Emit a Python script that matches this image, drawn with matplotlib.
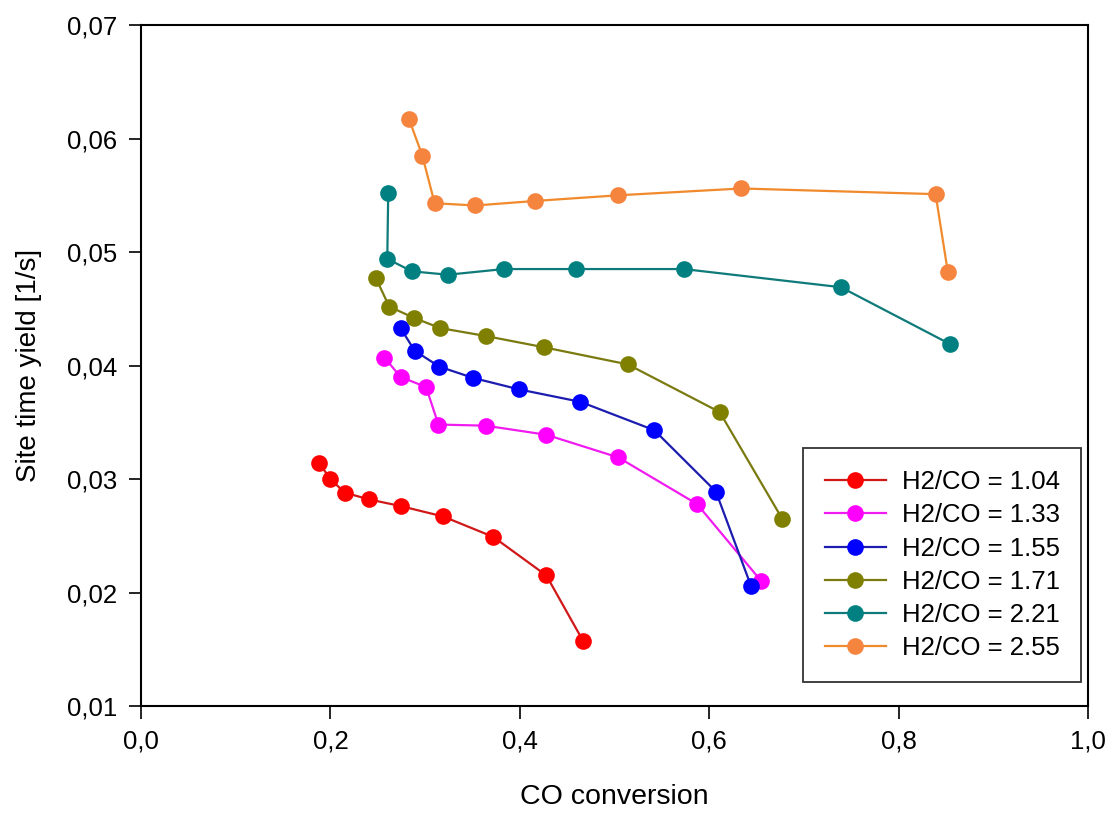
import matplotlib
matplotlib.use('Agg')
import matplotlib.pyplot as plt
from matplotlib.ticker import FuncFormatter

plt.rcParams['font.family'] = ['Liberation Sans', 'DejaVu Sans']

labels = ['H2/CO = 1.04', 'H2/CO = 1.33', 'H2/CO = 1.55',
          'H2/CO = 1.71', 'H2/CO = 2.21', 'H2/CO = 2.55']
marker_colors = ['#ff0000', '#ff00ff', '#0000ff', '#808000', '#008080', '#f5843f']
line_colors = ['#d01818', '#f01cf0', '#1c1cb0', '#7a7a10', '#0f7a7a', '#f08a2c']

x_104 = [0.188, 0.200, 0.215, 0.241, 0.275, 0.319, 0.372, 0.428, 0.467]
y_104 = [0.0314, 0.0300, 0.0288, 0.0282, 0.0276, 0.0267, 0.0249, 0.0215, 0.0157]

x_133 = [0.257, 0.274, 0.301, 0.314, 0.364, 0.428, 0.504, 0.587, 0.655]
y_133 = [0.0407, 0.0390, 0.0381, 0.0348, 0.0347, 0.0339, 0.0319, 0.0278, 0.0210]

x_155 = [0.274, 0.289, 0.315, 0.351, 0.399, 0.464, 0.542, 0.607, 0.644]
y_155 = [0.0433, 0.0413, 0.0399, 0.0389, 0.0379, 0.0368, 0.0343, 0.0289, 0.0206]

x_171 = [0.248, 0.262, 0.288, 0.316, 0.364, 0.426, 0.514, 0.611, 0.677]
y_171 = [0.0477, 0.0452, 0.0442, 0.0433, 0.0426, 0.0416, 0.0401, 0.0359, 0.0265]

x_221 = [0.261, 0.260, 0.286, 0.324, 0.383, 0.459, 0.573, 0.739, 0.854]
y_221 = [0.0552, 0.0494, 0.0483, 0.0480, 0.0485, 0.0485, 0.0485, 0.0469, 0.0419]

x_255 = [0.283, 0.297, 0.310, 0.353, 0.416, 0.504, 0.634, 0.839, 0.852]
y_255 = [0.0617, 0.0585, 0.0543, 0.0541, 0.0545, 0.0550, 0.0556, 0.0551, 0.0482]

series = [(x_104, y_104), (x_133, y_133), (x_155, y_155),
          (x_171, y_171), (x_221, y_221), (x_255, y_255)]

fig = plt.figure(figsize=(11.08, 8.13), dpi=100)
ax = fig.add_axes([0.1273, 0.1316, 0.8547, 0.8376])

for (xs, ys), mc, lc, lab in zip(series, marker_colors, line_colors, labels):
    ax.plot(xs, ys, color=lc, linewidth=1.6, marker='o', markersize=12,
            markerfacecolor=mc, markeredgewidth=0, label=lab)

ax.set_xlim(0.0, 1.0)
ax.set_ylim(0.01, 0.07)
ax.set_xticks([0.0, 0.2, 0.4, 0.6, 0.8, 1.0])
ax.set_yticks([0.01, 0.02, 0.03, 0.04, 0.05, 0.06, 0.07])
ax.xaxis.set_major_formatter(FuncFormatter(lambda v, p: f'{v:.1f}'.replace('.', ',')))
ax.yaxis.set_major_formatter(FuncFormatter(lambda v, p: f'{v:.2f}'.replace('.', ',')))
ax.tick_params(direction='out', length=9, width=1.2, labelsize=18.5, pad=8)

for s in ax.spines.values():
    s.set_linewidth(1.5)

ax.set_xlabel('CO conversion', fontsize=20.5, labelpad=22)
ax.set_ylabel('Site time yield [1/s]', fontsize=20, labelpad=18)

leg = ax.legend(loc='lower right', bbox_to_anchor=(0.993, 0.035), fontsize=18.5,
                frameon=True, fancybox=False, edgecolor='black',
                handlelength=2.4, labelspacing=0.36, borderpad=0.85,
                handletextpad=0.6, borderaxespad=0)
leg.get_frame().set_linewidth(1.3)

fig.savefig('out.png', dpi=100)
